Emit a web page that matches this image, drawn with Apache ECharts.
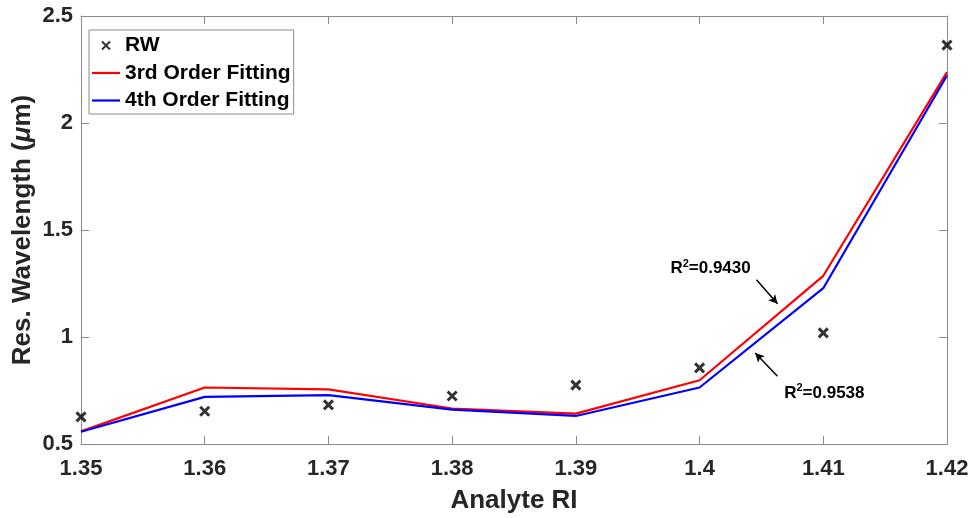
<!DOCTYPE html>
<html>
<head>
<meta charset="utf-8">
<script src="https://cdn.jsdelivr.net/npm/echarts@6/dist/echarts.min.js"></script>
<style>
  html, body { margin: 0; padding: 0; background: #fff; }
  #chart { width: 974px; height: 518px; }
</style>
</head>
<body>
<div id="chart"></div>
<script>
// Analyte refractive index (x) and resonance wavelength in µm
const riValues = [1.35, 1.36, 1.37, 1.38, 1.39, 1.40, 1.41, 1.42];
const rwValues = [0.627, 0.653, 0.683, 0.724, 0.775, 0.856, 1.019, 2.364];
const fit3Values = [0.559, 0.764, 0.755, 0.666, 0.642, 0.798, 1.286, 2.238];
const fit4Values = [0.557, 0.720, 0.728, 0.661, 0.631, 0.764, 1.228, 2.222];

const xTicks = { min: 1.35, max: 1.42, step: 0.01 };
const yTicks = { min: 0.5, max: 2.5, step: 0.5 };

// R² annotations: label anchor and arrow (tail -> head), in data units
const fit3Note = { text: '0.9430', at: [1.3976, 1.319], arrow: [[1.4046, 1.267], [1.4063, 1.155]] };
const fit4Note = { text: '0.9538', at: [1.4068, 0.738], arrow: [[1.4063, 0.817], [1.4045, 0.925]] };

const FONT = 'Liberation Sans, Arial, Helvetica, sans-serif';
const AXIS_GRAY = '#8a8a8a';
const TEXT_DARK = '#262626';

const pairs = vals => riValues.map((x, i) => [x, vals[i]]);
const tickFmt = v => String(+v.toFixed(2));

const boxAxis = (extra) => Object.assign({
  type: 'value',
  axisLine: { show: true, lineStyle: { color: AXIS_GRAY, width: 1 } },
  axisTick: { show: true, inside: true, length: 8, lineStyle: { color: AXIS_GRAY } },
  splitLine: { show: false }
}, extra);

const noteLabel = note => ({
  coord: note.at,
  symbol: 'circle',
  symbolSize: 1,
  itemStyle: { color: 'rgba(0,0,0,0)' },
  label: {
    show: true,
    position: 'right',
    distance: 0,
    formatter: '{a|R}{s|2}{a|=' + note.text + '}',
    rich: {
      a: { fontSize: 17, fontWeight: 'bold', color: '#000', fontFamily: FONT },
      s: { fontSize: 11, fontWeight: 'bold', color: '#000', fontFamily: FONT, padding: [0, 0, 10, 0] }
    }
  }
});

// flat bar used as the legend swatch for the fitted curves
const lineSwatch = 'path://M0,0H28V2.2H0Z';

const chart = echarts.init(document.getElementById('chart'), null, { renderer: 'canvas' });

chart.setOption({
  animation: false,
  backgroundColor: '#fff',
  textStyle: { fontFamily: FONT },
  grid: { left: 81, right: 27, top: 16, bottom: 74, containLabel: false, outerBoundsMode: 'none' },
  legend: {
    orient: 'vertical',
    left: 89,
    top: 30,
    padding: [5, 3, 3, 3],
    itemGap: 6.5,
    itemWidth: 28,
    itemHeight: 8,
    backgroundColor: '#fff',
    borderColor: AXIS_GRAY,
    borderWidth: 1,
    textStyle: { fontSize: 21, fontWeight: 'bold', color: '#000', fontFamily: FONT },
    data: [
      { name: 'RW' },
      { name: '3rd Order Fitting', icon: lineSwatch },
      { name: '4th Order Fitting', icon: lineSwatch }
    ]
  },
  xAxis: [
    boxAxis({
      position: 'bottom',
      min: xTicks.min, max: xTicks.max, interval: xTicks.step,
      name: 'Analyte RI',
      nameLocation: 'middle',
      nameGap: 44,
      nameMoveOverlap: false,
      nameTextStyle: { fontSize: 26, fontWeight: 'bold', color: TEXT_DARK, fontFamily: FONT },
      axisLabel: { formatter: tickFmt, fontSize: 22, fontWeight: 'bold', color: TEXT_DARK, margin: 14, fontFamily: FONT }
    }),
    boxAxis({
      position: 'top',
      min: xTicks.min, max: xTicks.max, interval: xTicks.step,
      axisLabel: { show: false }
    })
  ],
  yAxis: [
    boxAxis({
      position: 'left',
      min: yTicks.min, max: yTicks.max, interval: yTicks.step,
      name: 'Res. Wavelength ({i|μ}m)',
      nameLocation: 'middle',
      nameGap: 45,
      nameMoveOverlap: false,
      nameTextStyle: {
        fontSize: 26, fontWeight: 'bold', color: TEXT_DARK, fontFamily: FONT,
        rich: { i: { fontSize: 26, fontWeight: 'bold', fontStyle: 'italic', color: TEXT_DARK, fontFamily: FONT } }
      },
      axisLabel: { formatter: tickFmt, fontSize: 22, fontWeight: 'bold', color: TEXT_DARK, margin: 8, fontFamily: FONT }
    }),
    boxAxis({
      position: 'right',
      min: yTicks.min, max: yTicks.max, interval: yTicks.step,
      axisLabel: { show: false }
    })
  ],
  series: [
    {
      name: '3rd Order Fitting',
      type: 'line',
      data: pairs(fit3Values),
      symbol: 'none',
      lineStyle: { color: '#ff0000', width: 2.2 },
      itemStyle: { color: '#ff0000' },
      z: 3
    },
    {
      name: '4th Order Fitting',
      type: 'line',
      data: pairs(fit4Values),
      symbol: 'none',
      lineStyle: { color: '#0000ff', width: 2.2 },
      itemStyle: { color: '#0000ff' },
      z: 3
    },
    {
      name: 'RW',
      type: 'scatter',
      data: pairs(rwValues),
      symbol: 'path://M0,0L10,10M0,10L10,0',
      symbolSize: 9,
      itemStyle: { color: '#000', borderColor: '#000', borderWidth: 3 },
      z: 4,
      markLine: {
        silent: true,
        symbol: ['none', 'arrow'],
        symbolSize: [7, 9],
        label: { show: false },
        lineStyle: { color: '#000', width: 1.5, type: 'solid' },
        data: [
          [{ coord: fit3Note.arrow[0] }, { coord: fit3Note.arrow[1] }],
          [{ coord: fit4Note.arrow[0] }, { coord: fit4Note.arrow[1] }]
        ]
      },
      markPoint: {
        silent: true,
        data: [noteLabel(fit3Note), noteLabel(fit4Note)]
      }
    }
  ]
});
</script>
</body>
</html>
